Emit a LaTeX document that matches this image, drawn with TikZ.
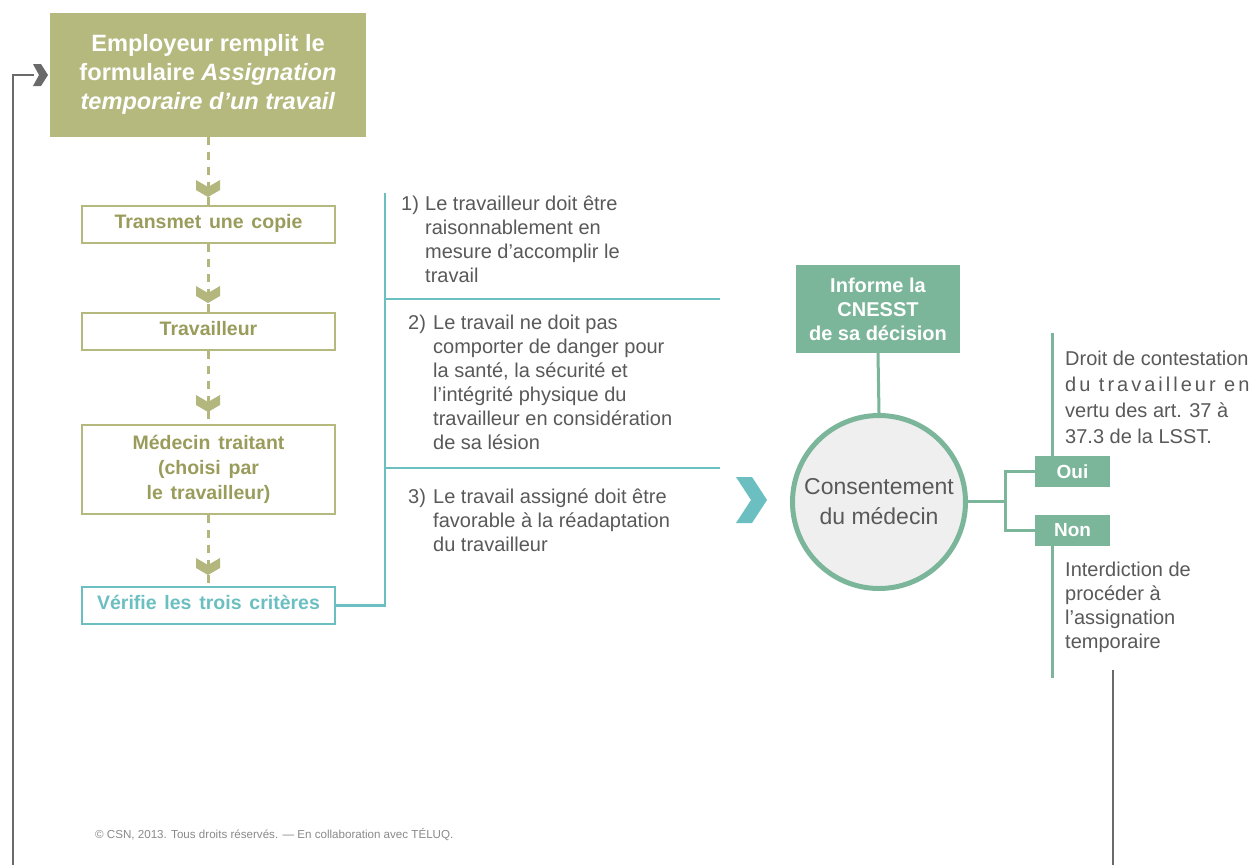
\documentclass[tikz,border=0pt]{standalone}
\usepackage{fontspec}
\setmainfont{Liberation Sans}
\definecolor{olivefill}{HTML}{B5B97E}
\definecolor{olivetext}{HTML}{9A9C5C}
\definecolor{olivedash}{HTML}{B3B67D}
\definecolor{tealc}{HTML}{6BBFC0}
\definecolor{greenc}{HTML}{7BB59A}
\definecolor{graytext}{HTML}{595959}
\definecolor{arrowgray}{HTML}{6A6A6A}
\definecolor{circfill}{HTML}{EFEFEF}
\definecolor{copygray}{HTML}{8A8A8A}
\newcommand\olwordsp{\spaceskip 0.4em\relax}
\begin{document}
\begin{tikzpicture}[x=1pt,y=-1pt,
  topbox/.style={fill=olivefill, draw=none, inner sep=0pt, minimum width=316pt, minimum height=124pt,
    align=center, text=white, font=\fontsize{23.6}{29}\selectfont\bfseries},
  olbox/.style={draw=olivefill, line width=2pt, fill=white, inner sep=0pt, minimum width=253pt, minimum height=37pt,
    align=center, text=olivetext, font=\fontsize{19.5}{25}\selectfont\bfseries\olwordsp},
  oneline/.style={text height=0.95em, text depth=0.21em},
  tealbox/.style={olbox, draw=tealc, text=tealc},
  greenbox/.style={fill=greenc, draw=none, inner sep=0pt, align=center, text=white,
    font=\fontsize{20}{24}\selectfont\bfseries},
  crit/.style={anchor=base west, inner sep=0pt, align=left, text=graytext,
    font=\fontsize{20}{24}\selectfont},
  dashline/.style={draw=olivedash, line width=3pt, dash pattern=on 8pt off 7pt},
  dchev/.pic={\fill[olivedash] (-12,0) -- (0,7) -- (12,0) -- (12,10) -- (0,17) -- (-12,10) -- cycle;},
  tealline/.style={draw=tealc, line width=2.5pt},
  thintealline/.style={draw=tealc, line width=1.5pt},
  greenline/.style={draw=greenc, line width=3pt},
  grayline/.style={draw=arrowgray, line width=2pt}
]
\useasboundingbox (0,0) rectangle (1259,865);
\fill[white] (0,0) rectangle (1259,865);

% left flow
\node[topbox] (emp) at (208,74.5) {Employeur remplit le\\ formulaire \textit{Assignation}\\ \textit{temporaire d’un travail}};
\node[olbox, oneline] (trans) at (208.5,224.5) {Transmet une copie};
\node[olbox, oneline] (trav) at (208.5,331.5) {Travailleur};
\node[olbox, minimum height=89pt] (med) at (208.5,469.5) {Médecin traitant\\ (choisi par\\ le travailleur)};
\node[tealbox, oneline] (verif) at (208.5,605.5) {Vérifie les trois critères};

\draw[dashline] (emp.south -| 208,0) -- (trans.north -| 208,0);
\draw[dashline] (trans.south -| 208,0) -- (trav.north -| 208,0);
\draw[dashline] (trav.south -| 208,0) -- (med.north -| 208,0);
\draw[dashline] (med.south -| 208,0) -- (verif.north -| 208,0);
\pic at (208,180) {dchev};
\pic at (208,286) {dchev};
\pic at (208,395) {dchev};
\pic at (208,558) {dchev};

% gray return line
\coordinate (gbl) at (13,866);
\coordinate (gtl) at (13,75);
\coordinate (garr) at (34,75);
\draw[grayline] (gbl) -- (gtl) -- (garr);
\fill[arrowgray] (33,64) -- (41,64) -- (48,75) -- (41,86) -- (33,86) -- (39,75) -- cycle;

% criteria
\coordinate (vtop) at (385,193);
\coordinate (vbot) at (385,605.5);
\draw[tealline] (verif.east) -- (vbot) -- (vtop);
\coordinate (h1a) at (385,299);
\coordinate (h1b) at (720,299);
\coordinate (h2a) at (385,468);
\coordinate (h2b) at (720,468);
\draw[thintealline] (h1a) -- (h1b);
\draw[thintealline] (h2a) -- (h2b);

% (base anchor of a multi-line node = baseline of its last line)
\node[crit] (n1) at (401,210) {1)};
\node[crit] (c1) at (425,282) {Le travailleur doit être\\ raisonnablement en\\ mesure d’accomplir le\\ travail};
\node[crit] (n2) at (408,329) {2)};
\node[crit] (c2) at (433,449) {Le travail ne doit pas\\ comporter de danger pour\\ la santé, la sécurité et\\ l’intégrité physique du\\ travailleur en considération\\ de sa lésion};
\node[crit] (n3) at (408,503) {3)};
\node[crit] (c3) at (433,551) {Le travail assigné doit être\\ favorable à la réadaptation\\ du travailleur};

% teal chevron
\fill[tealc] (736,477) -- (752,477) -- (767,500) -- (752,523) -- (736,523) -- (751,500) -- cycle;

% circle and decision
\node[circle, draw=greenc, line width=5pt, fill=circfill, minimum size=173pt, inner sep=0pt,
  align=center, text=graytext, font=\fontsize{23}{30}\selectfont] (cons) at (879,502) {Consentement\\ du médecin};
\node[greenbox, minimum width=164pt, minimum height=88pt] (inf) at (878,309) {Informe la\\ CNESST\\ de sa décision};
\draw[greenline] (inf.south) -- (cons.north);

\node[greenbox, minimum width=75pt, minimum height=31pt, font=\fontsize{19}{24}\selectfont\bfseries] (oui) at (1072.5,471.5) {Oui};
\node[greenbox, minimum width=75pt, minimum height=31pt, font=\fontsize{19}{24}\selectfont\bfseries] (non) at (1072.5,530.5) {Non};
\coordinate (br) at (1005,501);
\draw[greenline] (cons.east |- br) -- (br);
\draw[greenline] (oui.west) -| (br) |- (non.west);

\coordinate (ouitop) at (1052,333);
\coordinate (nonbot) at (1052,678);
\draw[greenline] (oui.north -| ouitop) -- (ouitop);
\draw[greenline] (non.south -| nonbot) -- (nonbot);

\node[crit, font=\fontsize{20}{26}\selectfont] (droit) at (1065,443) {Droit de contestation\\ {\addfontfeature{LetterSpace=15}du travailleur en}\\ vertu des art. 37 à\\ 37.3 de la LSST.};
\node[crit] (interd) at (1065,648) {Interdiction de\\ procéder à\\ l’assignation\\ temporaire};

\coordinate (grt) at (1113,670);
\coordinate (grb) at (1113,866);
\draw[grayline] (grt) -- (grb);

\node[anchor=base west, inner sep=0pt, text=copygray, font=\fontsize{11.6}{13}\selectfont] (copy) at (95,838)
  {© CSN, 2013. Tous droits réservés. — En collaboration avec TÉLUQ.};
\end{tikzpicture}
\end{document}
